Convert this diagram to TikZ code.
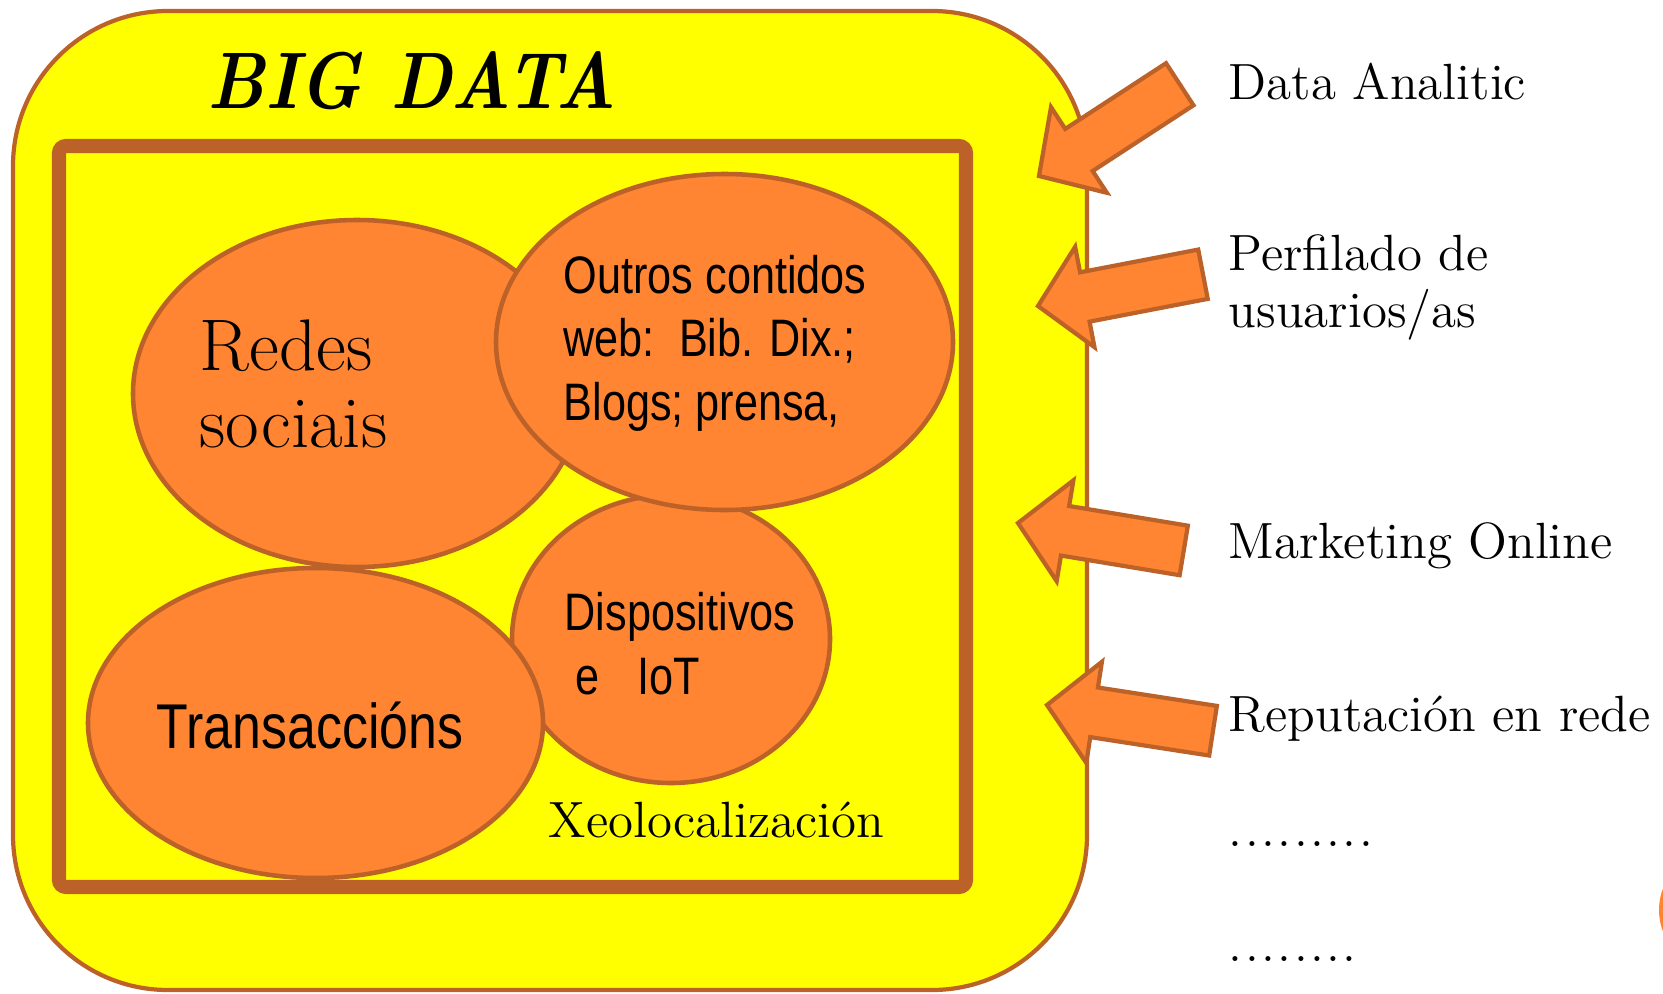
\documentclass[tikz,border=0pt]{standalone}
\usepackage{fontspec}
\usepackage{graphicx}
\usetikzlibrary{positioning,shapes.geometric,shapes.arrows}
\newfontfamily\narrowsf[FakeStretch=0.82]{Liberation Sans}
\definecolor{bdyellow}{HTML}{FFFF00}
\definecolor{bdorange}{HTML}{FF8533}
\definecolor{bdbrown}{HTML}{BC6228}
\newcommand{\spdot}{.\kern0.7pt}

\begin{document}
\begin{tikzpicture}[
  blob/.style={ellipse, draw=bdbrown, fill=bdorange, line width=1.3pt, inner sep=0pt, outer sep=0pt},
  sanslbl/.style={anchor=base west, inner sep=0pt, align=left, font=\narrowsf\fontsize{15}{18}\selectfont},
  seriflbl/.style={anchor=base west, inner sep=0pt, align=left, font=\fontsize{14.5}{16.2}\selectfont},
  blockarr/.style={single arrow, draw=bdbrown, fill=bdorange, line width=1.2pt,
    minimum height=1.68cm, minimum width=0.98cm, single arrow head extend=0.26cm,
    single arrow tip angle=94, inner xsep=0pt, inner ysep=0.23cm, outer sep=0pt, anchor=tip}
]
\clip (0,0) rectangle (16.63,-9.93);

% big data box
\node[draw=bdbrown, fill=bdyellow, line width=1.2pt, rounded corners=1.55cm, outer sep=0pt,
  minimum width=10.74cm, minimum height=9.79cm, anchor=north west] (bigdata) at (0.13,-0.11) {};
\node[draw=bdbrown, line width=4pt, rounded corners=2pt, outer sep=0pt,
  minimum width=9.07cm, minimum height=7.41cm, anchor=north west] (frame) at (0.59,-1.46) {};
\node[anchor=base west, inner sep=0pt, font=\fontsize{22.8}{24}\selectfont\bfseries\itshape] (title) at (2.07,-1.08) {\scalebox{0.88}[1]{BIG DATA}};

% sources
\node[blob, minimum width=4.48cm, minimum height=3.47cm] (redes) at (3.57,-3.935) {};
\node[blob, minimum width=3.18cm, minimum height=2.88cm] (disp) at (6.71,-6.39) {};
\node[blob, minimum width=4.55cm, minimum height=3.10cm] (trans) at (3.155,-7.23) {};
\node[blob, minimum width=4.57cm, minimum height=3.36cm] (outros) at (7.245,-3.42) {};

\node[seriflbl, font=\fontsize{20.8}{21.9}\selectfont] (redesTxt) at (1.99,-4.47) {Redes\\sociais};
\node[sanslbl] (outrosTxt) at (5.63,-4.20) {Outros contidos\\web:\ \ Bib. Dix.;\\Blogs; prensa,};
\node[sanslbl] (dispTxt) at (5.64,-6.94) {Dispositivos\\\hspace*{0.11cm}e\hspace{0.38cm}IoT};
\node[sanslbl, font=\narrowsf\fontsize{18}{20}\selectfont] (transTxt) at (1.56,-7.48) {Transaccións};
\node[seriflbl] (xeoTxt) at (5.48,-8.37) {Xeolocalización};

% uses
\node[seriflbl] (analitic) at (12.28,-0.99) {Data Analitic};
\node[seriflbl] (perfil) at (12.28,-3.27) {Perfilado de\\usuarios/as};
\node[seriflbl] (marketing) at (12.28,-5.58) {Marketing Online};
\node[seriflbl] (reput) at (12.28,-7.31) {Reputación en rede};
\node[seriflbl] (dotsA) at (12.28,-8.46) {\spdot\spdot\spdot\spdot\spdot\spdot\spdot\spdot.};
\node[seriflbl] (dotsB) at (12.28,-9.61) {\spdot\spdot\spdot\spdot\spdot\spdot\spdot.};

\node[blockarr, rotate=213.1] (arrAnalitic) at (10.39,-1.76) {};
\node[blockarr, rotate=190.9] (arrPerfil) at (10.38,-3.06) {};
\node[blockarr, rotate=170.6] (arrMarketing) at (10.18,-5.23) {};
\node[blockarr, rotate=171.2] (arrReput) at (10.47,-7.05) {};

\node[circle, fill=bdorange, minimum size=1.2cm] (deco) at (17.19,-9.10) {};
\end{tikzpicture}
\end{document}
